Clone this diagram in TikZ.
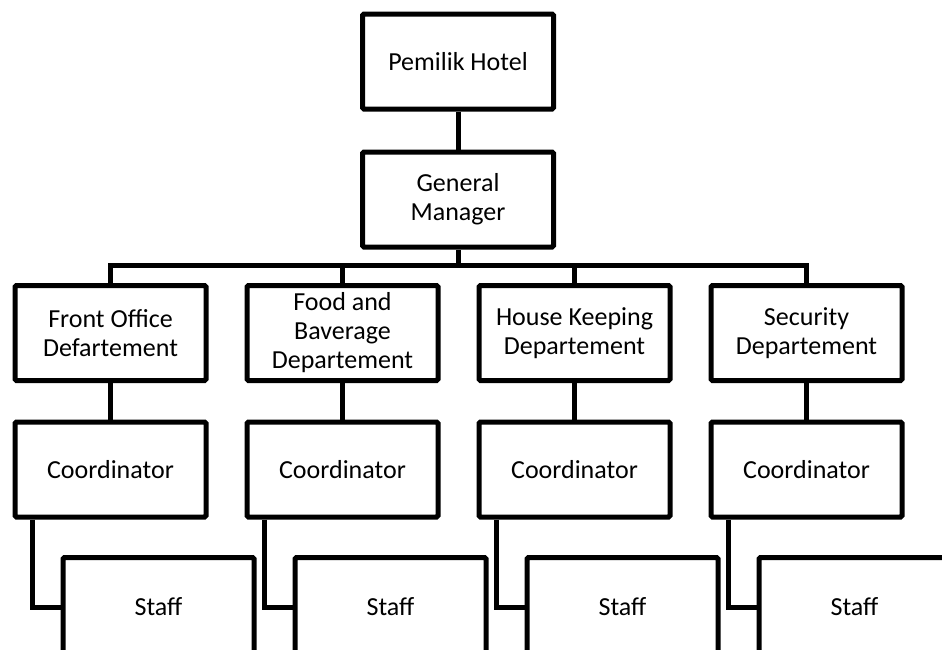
\documentclass[tikz,border=0pt]{standalone}
\usepackage{fontspec}
\setmainfont{Carlito}
\usepackage{tikz}
\usetikzlibrary{calc}
\tikzstyle{every node}=[font=\fontsize{26}{29}\selectfont]
\tikzstyle{box}=[draw, rectangle, rounded corners=1.5pt, minimum width=191pt, minimum height=95pt, inner sep=2pt, align=center]
\tikzstyle{staffbox}=[box, minimum height=99pt]

\begin{document}
\begin{tikzpicture}[x=1pt,y=-1pt,line width=5pt]
\useasboundingbox (0,0) rectangle (942,649);
\clip (0,0) rectangle (942,649);

\node[box] (owner) at (458,61.5) {Pemilik Hotel};
\node[box] (gm) at (458,199.5) {General\\Manager};
\draw (owner.south) -- (gm.north);

\node[box] (fo) at (110.5,333) {Front Office\\Defartement};
\node[box] (fb) at (342.5,333) {Food and\\Baverage\\Departement};
\node[box] (hk) at (574.5,333) {House Keeping\\Departement};
\node[box] (sec) at (806.5,333) {Security\\Departement};

\coordinate (bar) at (458,265);
\draw (gm.south) -- (bar);
\draw (fo.north) |- (bar) -| (sec.north);
\draw (fb.north) -- (fb.north |- bar);
\draw (hk.north) -- (hk.north |- bar);

\node[box] (cfo) at (110.5,469.5) {Coordinator};
\node[box] (cfb) at (342.5,469.5) {Coordinator};
\node[box] (chk) at (574.5,469.5) {Coordinator};
\node[box] (csec) at (806.5,469.5) {Coordinator};

\draw (fo.south) -- (cfo.north);
\draw (fb.south) -- (cfb.north);
\draw (hk.south) -- (chk.north);
\draw (sec.south) -- (csec.north);

\node[staffbox] (sfo) at (158.5,607) {Staff};
\node[staffbox] (sfb) at (390.5,607) {Staff};
\node[staffbox] (shk) at (622.5,607) {Staff};
\node[staffbox] (ssec) at (854.5,607) {Staff};

\draw ($(cfo.south west)!0.1!(cfo.south east)$) |- (sfo.west);
\draw ($(cfb.south west)!0.1!(cfb.south east)$) |- (sfb.west);
\draw ($(chk.south west)!0.1!(chk.south east)$) |- (shk.west);
\draw ($(csec.south west)!0.1!(csec.south east)$) |- (ssec.west);
\end{tikzpicture}
\end{document}
